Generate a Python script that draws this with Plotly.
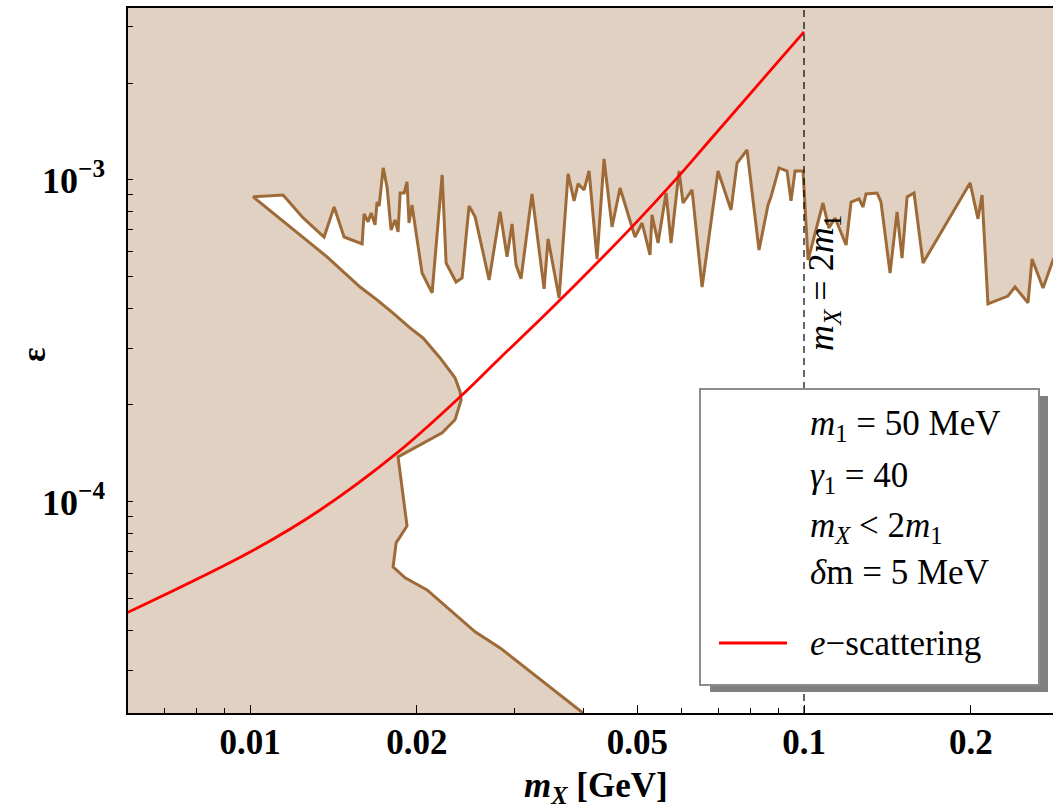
import numpy as np
import plotly.graph_objects as go

# ---------------- data ----------------
# boundary of the excluded (shaded) region: lower branch from the bottom up to the tip,
# then the jagged upper edge from left to right
bound_mx = [0.0399, 0.02827, 0.02548, 0.02087, 0.01905, 0.01812, 0.01835, 0.0192, 0.0185, 0.0192,
            0.02222, 0.02344, 0.02404, 0.02394, 0.02344, 0.02203, 0.02052, 0.01944, 0.01812, 0.01695,
            0.0158, 0.01377, 0.01013,
            0.01147, 0.01247, 0.0136, 0.01418, 0.01478, 0.01593, 0.01606, 0.01633, 0.01654, 0.01667,
            0.01681, 0.01695, 0.0171, 0.01739, 0.01767, 0.01797, 0.01827, 0.0185, 0.01866, 0.01897,
            0.0192, 0.01936, 0.0196, 0.02044, 0.02131, 0.02222, 0.02259, 0.02354, 0.02414, 0.02485,
            0.02548, 0.02701, 0.02827, 0.0291, 0.02971, 0.03021, 0.03084, 0.03228, 0.03394, 0.03451,
            0.03613, 0.0375, 0.03845, 0.03909, 0.04008, 0.04092, 0.0423, 0.04355, 0.04502, 0.04655,
            0.04953, 0.05101, 0.05272, 0.05316, 0.05451, 0.05636, 0.05754, 0.05949, 0.06048, 0.06279,
            0.06546, 0.06995, 0.07383, 0.0757, 0.07891, 0.08294, 0.08611, 0.08717, 0.09013, 0.09318,
            0.09474, 0.09634, 0.09958, 0.1017, 0.1082, 0.1109, 0.1138, 0.1191, 0.1216, 0.1257,
            0.1278, 0.1294, 0.1355, 0.1377, 0.143, 0.1472, 0.1503, 0.1535, 0.158, 0.164,
            0.1994, 0.2061, 0.2096, 0.2148, 0.2334, 0.2404, 0.2537, 0.258, 0.2701, 0.2815, 0.2959]
bound_eps = [2.21e-5, 3.52e-5, 3.95e-5, 5.33e-5, 5.81e-5, 6.28e-5, 7.46e-5, 8.42e-5, 1.38e-4, 1.43e-4,
             1.64e-4, 1.80e-4, 2.07e-4, 2.20e-4, 2.43e-4, 2.80e-4, 3.23e-4, 3.47e-4, 3.86e-4, 4.24e-4,
             4.65e-4, 5.77e-4, 8.86e-4,
             8.98e-4, 7.62e-4, 6.65e-4, 8.24e-4, 6.65e-4, 6.33e-4, 7.84e-4, 7.41e-4, 7.90e-4, 7.62e-4,
             7.25e-4, 8.54e-4, 8.30e-4, 1.090e-3, 9.51e-4, 6.99e-4, 7.51e-4, 6.90e-4, 9.11e-4, 9.11e-4,
             9.86e-4, 7.35e-4, 8.36e-4, 5.14e-4, 4.46e-4, 1.036e-3, 5.52e-4, 4.82e-4, 4.96e-4, 8.30e-4,
             7.68e-4, 4.89e-4, 7.96e-4, 5.77e-4, 7.30e-4, 5.45e-4, 4.93e-4, 9.05e-4, 4.59e-4, 6.56e-4,
             4.30e-4, 1.044e-3, 8.61e-4, 9.72e-4, 9.31e-4, 1.066e-3, 5.68e-4, 1.162e-3, 7.15e-4, 9.44e-4,
             6.65e-4, 7.35e-4, 5.85e-4, 7.79e-4, 6.37e-4, 9.11e-4, 6.37e-4, 1.066e-3, 8.48e-4, 9.31e-4,
             4.65e-4, 1.066e-3, 8.07e-4, 1.129e-3, 1.239e-3, 6.06e-4, 8.36e-4, 8.86e-4, 1.090e-3, 1.066e-3,
             8.61e-4, 1.066e-3, 1.066e-3, 5.64e-4, 8.48e-4, 7.09e-4, 7.62e-4, 6.28e-4, 8.54e-4, 8.73e-4,
             8.24e-4, 9.05e-4, 9.11e-4, 8.54e-4, 5.14e-4, 7.96e-4, 5.72e-4, 8.86e-4, 9.11e-4, 5.52e-4,
             9.79e-4, 7.57e-4, 8.98e-4, 4.12e-4, 4.36e-4, 4.65e-4, 4.15e-4, 5.68e-4, 4.62e-4, 5.64e-4, 6.51e-4]

# e-scattering curve
escat_mx = [0.006, 0.01, 0.01338, 0.01842, 0.02394, 0.02827, 0.0348, 0.04892, 0.05924, 0.06766, 0.1]
escat_eps = [4.53e-5, 6.99e-5, 9.44e-5, 1.42e-4, 2.12e-4, 2.80e-4, 3.95e-4, 7.15e-4, 1.022e-3, 1.331e-3, 2.882e-3]

x_tick_vals = [0.01, 0.02, 0.05, 0.1, 0.2]
x_tick_text = ["0.01", "0.02", "0.05", "0.1", "0.2"]
x_minor_vals = [0.007, 0.008, 0.009, 0.03, 0.04, 0.06, 0.07, 0.08, 0.09]
y_tick_vals = [1e-4, 1e-3]
y_tick_text = ["10<sup>−4</sup>", "10<sup>−3</sup>"]
y_minor_vals = [3e-5, 4e-5, 5e-5, 6e-5, 7e-5, 8e-5, 9e-5,
                2e-4, 3e-4, 4e-4, 5e-4, 6e-4, 7e-4, 8e-4, 9e-4, 2e-3, 3e-3]
x_range = [0.00602, 0.2815]
y_range = [2.21e-5, 3.42e-3]
threshold_mx = 0.1  # m_X = 2 m_1

legend_lines = ["<i>m</i><sub>1</sub> = 50 MeV",
                "<i>γ</i><sub>1</sub> = 40",
                "<i>m</i><sub><i>X</i></sub> &lt; 2<i>m</i><sub>1</sub>",
                "<i>δ</i>m = 5 MeV"]
legend_curve_label = "<i>e</i>−scattering"

# ---------------- styling ----------------
FILL = "#E0D1C3"
BROWN = "#9E6B38"
SERIF = "Liberation Serif"

W, H = 1053, 812
ML, MR, MT, MB = 128, 0, 8, 99
PW, PH = W - ML - MR, H - MT - MB


def px_x(p):
    return (p - ML) / PW


def px_y(p):
    return (H - MB - p) / PH


fig = go.Figure()

# allowed (white) region
poly_x = bound_mx + [0.5, 0.5, bound_mx[0]]
poly_y = bound_eps + [bound_eps[-1], 1e-5, 1e-5]
fig.add_trace(go.Scatter(x=poly_x, y=poly_y, mode="none", fill="toself",
                         fillcolor="white", hoverinfo="skip"))
# boundary curve
fig.add_trace(go.Scatter(x=bound_mx, y=bound_eps, mode="lines",
                         line=dict(color=BROWN, width=3)))
# e-scattering
fig.add_trace(go.Scatter(x=escat_mx, y=escat_eps, mode="lines",
                         line=dict(color="red", width=2.8, shape="spline")))

shapes = [
    dict(type="line", xref="x", yref="paper", x0=threshold_mx, x1=threshold_mx, y0=0, y1=1,
         line=dict(color="black", width=1.2, dash="7px,5px"), layer="above"),
    # legend shadow
    dict(type="rect", xref="paper", yref="paper", x0=px_x(710), x1=px_x(1048),
         y0=px_y(692), y1=px_y(396), fillcolor="#808080", line=dict(width=0), layer="above"),
    # legend box
    dict(type="rect", xref="paper", yref="paper", x0=px_x(700), x1=px_x(1039),
         y0=px_y(685), y1=px_y(389), fillcolor="white",
         line=dict(color="#8c8c8c", width=2), layer="above"),
    # legend sample line
    dict(type="line", xref="paper", yref="paper", x0=px_x(719), x1=px_x(787),
         y0=px_y(643), y1=px_y(643), line=dict(color="red", width=3), layer="above"),
]

LEG_SIZE = 35
annotations = []
for txt, py in zip(legend_lines, [425, 477, 527, 572]):
    annotations.append(dict(text=txt, xref="paper", yref="paper", x=px_x(808), y=px_y(py),
                            xanchor="left", yanchor="middle", showarrow=False,
                            font=dict(family=SERIF, size=LEG_SIZE, color="black")))
annotations.append(dict(text=legend_curve_label, xref="paper", yref="paper", x=px_x(808), y=px_y(643),
                        xanchor="left", yanchor="middle", showarrow=False,
                        font=dict(family=SERIF, size=LEG_SIZE, color="black")))
# threshold label
annotations.append(dict(text="<i>m</i><sub><i>X</i></sub> = 2<i>m</i><sub>1</sub>",
                        xref="x", yref="paper", x=np.log10(threshold_mx), xshift=19, y=px_y(283),
                        textangle=-90, showarrow=False, xanchor="center", yanchor="middle",
                        font=dict(family=SERIF, size=36, color="black")))
# axis titles
annotations.append(dict(text="<b><i>m</i><sub><i>X</i></sub> [GeV]</b>", xref="paper", yref="paper",
                        x=px_x(596), y=px_y(787), showarrow=False, xanchor="center", yanchor="middle",
                        font=dict(family=SERIF, size=35, color="black")))
annotations.append(dict(text="<b>ε</b>", xref="paper", yref="paper", x=px_x(33), y=px_y(355),
                        textangle=-90, showarrow=False, xanchor="center", yanchor="middle",
                        font=dict(family=SERIF, size=34, color="black")))

fig.update_layout(
    width=W, height=H,
    margin=dict(l=ML, r=MR, t=MT, b=MB),
    paper_bgcolor="white", plot_bgcolor=FILL,
    showlegend=False,
    shapes=shapes, annotations=annotations,
    xaxis=dict(type="log", range=[np.log10(x_range[0]), np.log10(x_range[1])],
               tickmode="array", tickvals=x_tick_vals, ticktext=x_tick_text,
               ticks="inside", ticklen=8, tickwidth=1, tickcolor="black",
               showline=True, linecolor="black", linewidth=1.5, mirror=True,
               showgrid=False, zeroline=False, ticklabelstandoff=-3,
               tickfont=dict(family=SERIF, size=35, color="black", weight="bold"),
               minor=dict(tickmode="array", tickvals=x_minor_vals, ticks="inside", ticklen=5,
                          tickcolor="black", showgrid=False)),
    yaxis=dict(type="log", range=[np.log10(y_range[0]), np.log10(y_range[1])],
               tickmode="array", tickvals=y_tick_vals, ticktext=y_tick_text,
               ticks="inside", ticklen=5, tickwidth=1, tickcolor="black",
               showline=True, linecolor="black", linewidth=1.5, mirror=False,
               showgrid=False, zeroline=False, ticklabelstandoff=14,
               tickfont=dict(family=SERIF, size=36, color="black", weight="bold"),
               minor=dict(tickmode="array", tickvals=y_minor_vals, ticks="inside", ticklen=5,
                          tickcolor="black", showgrid=False)),
)

fig.write_html("out.html")
